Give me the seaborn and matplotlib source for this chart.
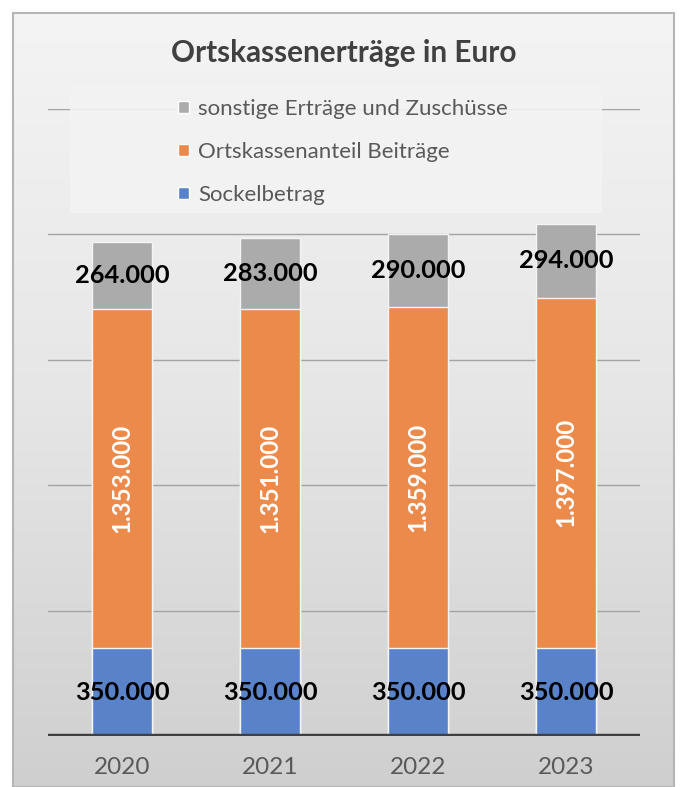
import matplotlib
matplotlib.use("Agg")
import matplotlib.pyplot as plt
from matplotlib.patches import Patch, Rectangle
import numpy as np
import pandas as pd
import seaborn as sns

# chart data
years = ["2020", "2021", "2022", "2023"]
sockel = [350000, 350000, 350000, 350000]
beitraege = [1353000, 1351000, 1359000, 1397000]
sonstige = [264000, 283000, 290000, 294000]

series_names = ["sonstige Erträge und Zuschüsse", "Ortskassenanteil Beiträge", "Sockelbetrag"]
c_blue = "#5a82c9"
c_orange = "#ec8a4c"
c_gray = "#ababab"

sns.set_theme(style="white")
plt.rcParams["font.family"] = ["Lato", "DejaVu Sans"]

df = pd.DataFrame({"year": years, "sockel": sockel, "beitraege": beitraege, "sonstige": sonstige})
df["top_orange"] = df["sockel"] + df["beitraege"]
df["total"] = df["top_orange"] + df["sonstige"]

W, H = 683, 787
fig = plt.figure(figsize=(W / 100, H / 100), dpi=100)
fig.patch.set_facecolor("white")

# background panel with vertical gradient
bg = fig.add_axes([13 / W, 0, 661 / W, 774 / H])
grad = np.linspace(0, 1, 256).reshape(-1, 1)
bg.imshow(grad, aspect="auto", cmap=matplotlib.colors.LinearSegmentedColormap.from_list(
    "bg", ["#f4f4f4", "#e6e6e6", "#cfcfcf"]), extent=[0, 1, 0, 1], origin="upper")
bg.set_xlim(0, 1)
bg.set_ylim(0, 1)
bg.set_axis_off()
fig.patches.append(Rectangle((13 / W, 0), 661 / W, 774 / H, transform=fig.transFigure,
                             fill=False, edgecolor="#b5b5b5", lw=1.5))

ax = fig.add_axes([48 / W, 51 / H, 592 / W, 627.5 / H])
ax.set_facecolor("none")

kw = dict(width=0.405, edgecolor="#f4f4f4", linewidth=1.0, ax=ax, zorder=3)
sns.barplot(data=df, x="year", y="total", color=c_gray, saturation=1, **kw)
sns.barplot(data=df, x="year", y="top_orange", color=c_orange, saturation=1, **kw)
sns.barplot(data=df, x="year", y="sockel", color=c_blue, saturation=1, **kw)

ax.set_ylim(0, 2500000)
ax.set_xlim(-0.5, len(years) - 0.5)
ax.set_yticks([0, 500000, 1000000, 1500000, 2000000, 2500000])
ax.yaxis.grid(True, color="#a3a3a3", lw=1.0, zorder=0)
ax.set_axisbelow(True)
ax.axhline(0, color="#404040", lw=3.2, zorder=4)
sns.despine(ax=ax, left=True, bottom=True)
ax.set_xlabel("")
ax.set_ylabel("")
ax.set_yticklabels([])
ax.tick_params(axis="both", length=0)
ax.tick_params(axis="x", labelsize=17.5, labelcolor="#595959", pad=15)
ax.tick_params(axis="y", pad=0)

def fmt(v):
    return f"{v:,.0f}".replace(",", ".")

for i, row in df.iterrows():
    ax.text(i, row["sockel"] / 2, fmt(row["sockel"]), ha="center", va="center",
            fontsize=18.3, fontweight="bold", color="black", zorder=6)
    ax.text(i, row["sockel"] + row["beitraege"] / 2, fmt(row["beitraege"]), ha="center",
            va="center", rotation=90, fontsize=17.3, fontweight="bold", color="white", zorder=6)
    ax.text(i, row["top_orange"] + row["sonstige"] / 2, fmt(row["sonstige"]), ha="center",
            va="center", fontsize=18.3, fontweight="bold", color="black", zorder=6)

# legend area (semi opaque box over top gridline)
ax.add_patch(Rectangle((70 / W, 1 - 213 / H), 532 / W, 128 / H, transform=fig.transFigure,
                       facecolor="#f3f3f3", edgecolor="none", alpha=0.9, zorder=5, clip_on=False))

handles = [Patch(facecolor=c_gray), Patch(facecolor=c_orange), Patch(facecolor=c_blue)]
leg = fig.legend(handles, series_names, loc="upper left", bbox_to_anchor=(178 / W, 1 - 99 / H),
                 frameon=False, fontsize=16, handlelength=0.5, handleheight=0.5,
                 handletextpad=0.4, labelspacing=1.03, borderpad=0, borderaxespad=0)
for t in leg.get_texts():
    t.set_color("#595959")

fig.text(344 / W, 1 - 53 / H, "Ortskassenerträge in Euro", ha="center", va="center",
         fontsize=21.4, fontweight="bold", color="#404040")

fig.savefig("out.png", dpi=100)
